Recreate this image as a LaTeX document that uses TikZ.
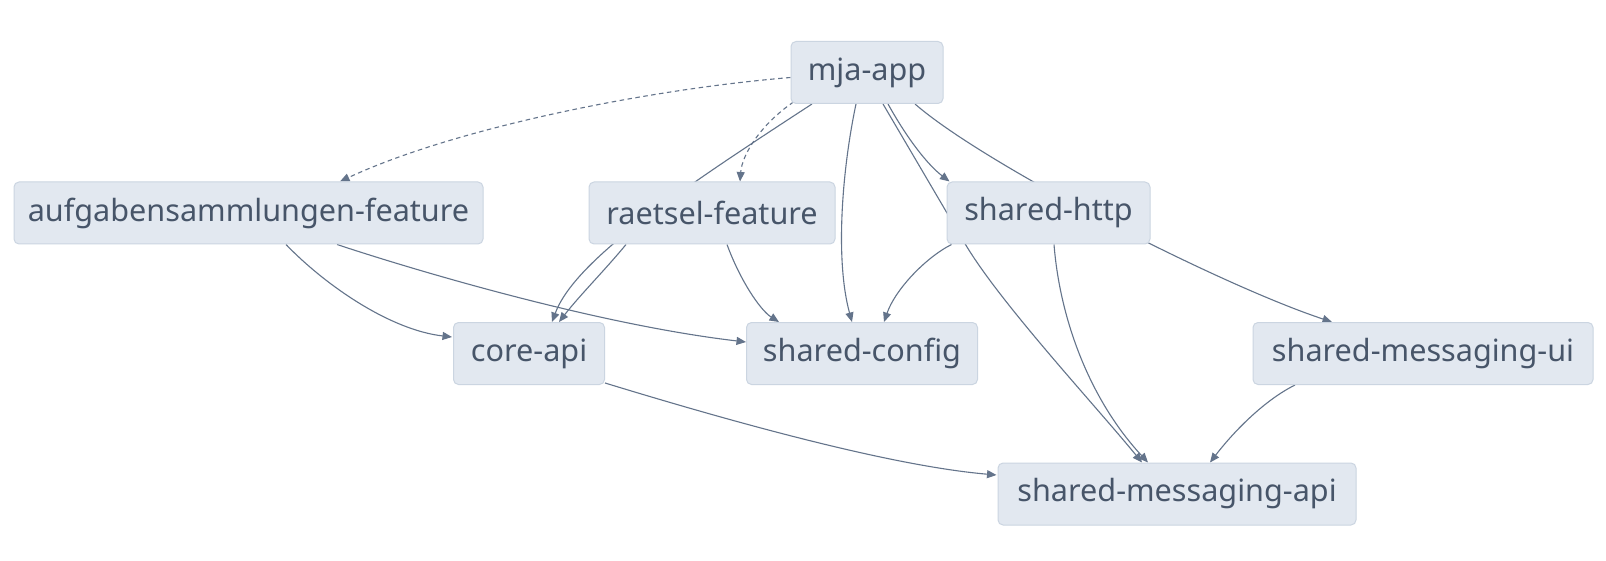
\documentclass[tikz,border=0pt]{standalone}
\usepackage{fontspec}
\setmainfont{Noto Sans}
\usetikzlibrary{arrows.meta,calc}
\definecolor{boxfill}{HTML}{E2E8F0}
\definecolor{boxline}{HTML}{CBD5E1}
\definecolor{txt}{HTML}{475569}
\definecolor{edge}{HTML}{64748B}
\pgfdeclarelayer{bg}
\pgfdeclarelayer{edges}
\pgfsetlayers{bg,edges,main}
\begin{document}
\begin{tikzpicture}[x=1pt,y=-1pt,
  mod/.style={draw=boxline,fill=boxfill,line width=1pt,rounded corners=5pt,
    minimum height=62pt,inner sep=0pt,text=txt,font=\fontsize{30.6}{36}\selectfont},
  dep/.style={draw=edge,line width=1.1pt,-{Triangle[length=9.5pt,width=8pt]}},
  lazy/.style={dep,dash pattern=on 4.5pt off 3.5pt}]
\begin{pgfonlayer}{bg}
\fill[white] (0,0) rectangle (1606,561);
\end{pgfonlayer}
\node[mod,minimum width=152pt] (mja) at (867,72.5) {mja-app};
\node[mod,minimum width=469pt] (aufg) at (248.5,213) {aufgabensammlungen-feature};
\node[mod,minimum width=246pt] (raet) at (712,213) {raetsel-feature};
\node[mod,minimum width=203pt] (http) at (1048.5,213) {shared-http};
\node[mod,minimum width=151pt] (core) at (529,353.5) {core-api};
\node[mod,minimum width=231pt] (conf) at (862,353.5) {shared-config};
\node[mod,minimum width=340pt] (smui) at (1423,353.5) {shared-messaging-ui};
\node[mod,minimum width=358pt] (smapi) at (1177,494) {shared-messaging-api};
\coordinate (viahttp) at ($(http.south west)+(19,0)$);
\begin{pgfonlayer}{edges}
% mja-app
\draw[lazy] ($(mja.west)+(0,5)$) .. controls (640,90) and (450,130) .. ($(aufg.north)+(91.5,0)$);
\draw[lazy] ($(mja.south west)+(3,-2)$) .. controls (760,125) and (742,155) .. ($(raet.north)+(28,0)$);
\draw[dep] ($(mja.south)+(-55,0)$) .. controls (680,190) and (575,260) .. ($(core.north)+(23,0)$);
\draw[dep] ($(mja.south)+(-11,0)$) .. controls (842,170) and (835,260) .. ($(conf.north)+(-10,0)$);
\draw[dep] ($(mja.south)+(21,0)$) .. controls (908,140) and (928,165) .. ($(http.north west)+(3,0)$);
\draw[dep] ($(mja.south)+(16,0)$) -- (viahttp) .. controls (1001,304) and (1095,405) .. ($(smapi.north)+(-35,0)$);
\draw[dep] ($(mja.south)+(48,0)$) .. controls (985,165) and (1220,285) .. ($(smui.north)+(-91,0)$);
% aufgabensammlungen-feature
\draw[dep] ($(aufg.south)+(37.5,0)$) .. controls (325,285) and (390,330) .. ($(core.west)+(-1,-16.5)$);
\draw[dep] ($(aufg.south)+(88.5,0)$) .. controls (420,272) and (600,325) .. ($(conf.west)+(0,-11.5)$);
% raetsel-feature
\draw[dep] ($(raet.south)+(-86,0)$) .. controls (605,270) and (580,295) .. ($(core.north)+(30,0)$);
\draw[dep] ($(raet.south)+(15,0)$) .. controls (740,280) and (760,310) .. ($(conf.north)+(-83,0)$);
% shared-http
\draw[dep] ($(http.south west)+(5,0)$) .. controls (925,258) and (895,290) .. ($(conf.north)+(22,0)$);
\draw[dep] ($(http.south)+(5.5,0)$) .. controls (1060,320) and (1090,400) .. ($(smapi.north)+(-29,0)$);
% core-api
\draw[dep] ($(core.south east)+(0,-2)$) .. controls (700,412) and (880,465) .. ($(smapi.west)+(-1,-19)$);
% shared-messaging-ui
\draw[dep] ($(smui.south)+(-128,0)$) .. controls (1265,400) and (1235,430) .. ($(smapi.north)+(33,0)$);
\end{pgfonlayer}
\end{tikzpicture}
\end{document}
